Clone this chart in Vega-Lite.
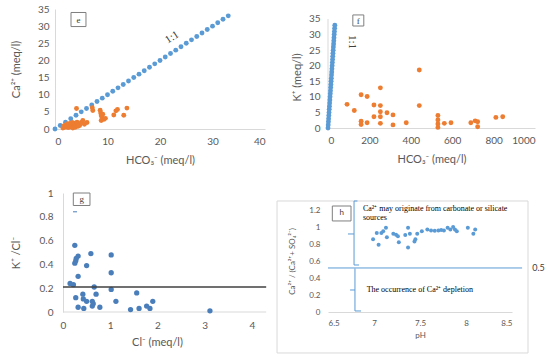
{
"$schema":"https://vega.github.io/schema/vega-lite/v6.json",
"autosize":{"type":"none"},
"padding":{"left":55,"top":9,"right":495,"bottom":348},
"background":"white",
"columns":2,
"spacing":{"column":61,"row":64},
"align":"none",
"bounds":"flush",
"config":{
 "view":{"stroke":null},
 "font":"Lato",
 "axis":{"ticks":false,"grid":false,"labelOverlap":false,"labelBound":false,"domainColor":"#d9d9d9","domainWidth":1,"labelColor":"#595959","titleColor":"#595959","titleFontWeight":"normal","labelFont":"Lato","titleFont":"Lato","labelFontSize":10,"titleFontSize":11}
},
"datasets":{
 "diag":[{"x":0,"y":0},{"x":1,"y":1},{"x":2,"y":2},{"x":3,"y":3},{"x":4,"y":4},{"x":5,"y":5},{"x":6,"y":6},{"x":7,"y":7},{"x":8,"y":8},{"x":9,"y":9},{"x":10,"y":10},{"x":11,"y":11},{"x":12,"y":12},{"x":13,"y":13},{"x":14,"y":14},{"x":15,"y":15},{"x":16,"y":16},{"x":17,"y":17},{"x":18,"y":18},{"x":19,"y":19},{"x":20,"y":20},{"x":21,"y":21},{"x":22,"y":22},{"x":23,"y":23},{"x":24,"y":24},{"x":25,"y":25},{"x":26,"y":26},{"x":27,"y":27},{"x":28,"y":28},{"x":29,"y":29},{"x":30,"y":30},{"x":31,"y":31},{"x":32,"y":32},{"x":33,"y":33}],
 "eo":[{"x":1.5,"y":0.3},{"x":1.7,"y":0.9},{"x":1.9,"y":0.5},{"x":2.0,"y":1.2},{"x":2.2,"y":0.7},{"x":2.3,"y":1.5},{"x":2.5,"y":0.4},{"x":2.6,"y":1.0},{"x":2.8,"y":1.6},{"x":2.9,"y":0.6},{"x":3.0,"y":1.2},{"x":3.2,"y":0.8},{"x":3.3,"y":1.9},{"x":3.4,"y":0.3},{"x":3.5,"y":1.4},{"x":3.7,"y":0.9},{"x":3.8,"y":1.7},{"x":3.9,"y":0.5},{"x":4.0,"y":1.2},{"x":4.1,"y":6.0},{"x":4.2,"y":2.0},{"x":4.4,"y":0.8},{"x":4.5,"y":1.5},{"x":4.7,"y":1.0},{"x":5.0,"y":1.9},{"x":5.3,"y":2.5},{"x":5.6,"y":1.4},{"x":6.1,"y":1.9},{"x":7.1,"y":6.2},{"x":7.2,"y":5.4},{"x":8.6,"y":5.5},{"x":8.7,"y":4.7},{"x":8.8,"y":3.9},{"x":8.8,"y":2.5},{"x":9.0,"y":3.3},{"x":9.1,"y":4.3},{"x":9.3,"y":2.8},{"x":9.6,"y":3.1},{"x":11.2,"y":4.1},{"x":11.6,"y":5.3},{"x":11.9,"y":5.7},{"x":13.1,"y":4.0},{"x":13.7,"y":6.1}],
 "fo":[{"x":92,"y":7.6},{"x":127,"y":5.6},{"x":160,"y":10.7},{"x":189,"y":10.1},{"x":160,"y":2.2},{"x":160,"y":1.1},{"x":189,"y":1.7},{"x":222,"y":7.4},{"x":222,"y":3.6},{"x":253,"y":12.9},{"x":253,"y":7.2},{"x":253,"y":5.2},{"x":253,"y":3.6},{"x":253,"y":1.5},{"x":285,"y":4.9},{"x":314,"y":4.2},{"x":314,"y":1.0},{"x":378,"y":1.7},{"x":441,"y":18.6},{"x":441,"y":7.2},{"x":531,"y":4.0},{"x":531,"y":2.6},{"x":531,"y":1.3},{"x":531,"y":0.2},{"x":562,"y":1.5},{"x":594,"y":1.7},{"x":690,"y":1.7},{"x":711,"y":2.3},{"x":723,"y":2.0},{"x":723,"y":0.4},{"x":811,"y":3.4},{"x":844,"y":3.6}],
 "gp":[{"x":0.15,"y":0.24},{"x":0.22,"y":0.23},{"x":0.25,"y":0.56},{"x":0.27,"y":0.43},{"x":0.25,"y":0.41},{"x":0.28,"y":0.45},{"x":0.32,"y":0.47},{"x":0.32,"y":0.30},{"x":0.59,"y":0.49},{"x":0.50,"y":0.39},{"x":1.02,"y":0.48},{"x":1.02,"y":0.33},{"x":1.02,"y":0.19},{"x":0.66,"y":0.21},{"x":0.27,"y":0.12},{"x":0.42,"y":0.15},{"x":0.43,"y":0.11},{"x":0.50,"y":0.09},{"x":0.70,"y":0.15},{"x":0.62,"y":0.09},{"x":0.64,"y":0.07},{"x":0.62,"y":0.05},{"x":0.78,"y":0.04},{"x":0.32,"y":0.04},{"x":0.44,"y":0.03},{"x":1.12,"y":0.09},{"x":1.56,"y":0.16},{"x":1.43,"y":0.02},{"x":1.61,"y":0.03},{"x":1.77,"y":0.05},{"x":1.84,"y":0.03},{"x":1.90,"y":0.09},{"x":3.11,"y":0.01}],
 "hp":[{"x":6.99,"y":0.855},{"x":7.03,"y":0.93},{"x":7.05,"y":0.79},{"x":7.08,"y":0.93},{"x":7.10,"y":0.95},{"x":7.13,"y":0.99},{"x":7.14,"y":0.88},{"x":7.21,"y":0.92},{"x":7.24,"y":0.91},{"x":7.26,"y":0.89},{"x":7.27,"y":0.82},{"x":7.34,"y":0.905},{"x":7.37,"y":0.76},{"x":7.37,"y":0.99},{"x":7.39,"y":0.92},{"x":7.44,"y":0.83},{"x":7.45,"y":0.855},{"x":7.47,"y":0.92},{"x":7.52,"y":0.95},{"x":7.58,"y":0.97},{"x":7.62,"y":0.96},{"x":7.66,"y":0.955},{"x":7.70,"y":0.96},{"x":7.73,"y":0.965},{"x":7.76,"y":0.96},{"x":7.80,"y":0.99},{"x":7.83,"y":0.97},{"x":7.86,"y":1.0},{"x":7.88,"y":0.97},{"x":7.90,"y":0.95},{"x":8.02,"y":0.99},{"x":8.08,"y":0.92},{"x":8.10,"y":0.97}],
 "hseg":[{"x1":6.5,"y1":0.518,"x2":8.61,"y2":0.518},{"x1":6.783,"y1":1.306,"x2":6.783,"y2":0.553},{"x1":6.783,"y1":1.306,"x2":6.82,"y2":1.306},{"x1":6.783,"y1":0.553,"x2":6.837,"y2":0.553},{"x1":6.717,"y1":0.918,"x2":6.783,"y2":0.918},{"x1":6.793,"y1":0.512,"x2":6.793,"y2":0.012},{"x1":6.793,"y1":0.012,"x2":6.859,"y2":0.012},{"x1":6.74,"y1":0.259,"x2":6.793,"y2":0.259}]
},
"concat":[
 {
  "width":210,"height":120,
  "layer":[
   {"data":{"name":"diag"},"mark":{"type":"circle","size":24,"color":"#5b9bd5","opacity":1},
    "encoding":{"x":{"field":"x","type":"quantitative","scale":{"domain":[0,40],"nice":false},"axis":{"values":[0,10,20,30,40],"tickCount":20,"format":"d","title":"HCO₃⁻ (meq/l)","labelPadding":7,"titlePadding":8}},
                "y":{"field":"y","type":"quantitative","scale":{"domain":[0,35],"nice":false},"axis":{"values":[0,5,10,15,20,25,30,35],"tickCount":20,"format":"d","title":"Ca²⁺ (meq/l)","labelPadding":6,"titlePadding":16}}}},
   {"data":{"name":"eo"},"mark":{"type":"circle","size":24,"color":"#ed7d31","opacity":1},
    "encoding":{"x":{"field":"x","type":"quantitative"},"y":{"field":"y","type":"quantitative"}}},
   {"data":{"values":[{"x":22.3,"y":26.7,"t":"1:1"}]},"mark":{"type":"text","angle":327,"font":"Liberation Serif","fontSize":11,"color":"#404040"},
    "encoding":{"x":{"field":"x","type":"quantitative"},"y":{"field":"y","type":"quantitative"},"text":{"field":"t"}}},
   {"data":{"values":[{"x1":3.05,"x2":5.9,"y1":29.88,"y2":33.98}]},"mark":{"type":"rect","fill":"white","stroke":"#7f7f7f","strokeWidth":1},
    "encoding":{"x":{"field":"x1","type":"quantitative"},"x2":{"field":"x2"},"y":{"field":"y1","type":"quantitative"},"y2":{"field":"y2"}}},
   {"data":{"values":[{"x":4.48,"y":31.9,"t":"e"}]},"mark":{"type":"text","font":"Liberation Serif","fontSize":9,"color":"#404040"},
    "encoding":{"x":{"field":"x","type":"quantitative"},"y":{"field":"y","type":"quantitative"},"text":{"field":"t"}}}
  ]
 },
 {
  "width":207,"height":119,
  "layer":[
   {"data":{"values":[{"x":0,"y1":0,"y2":35}]},"mark":{"type":"rule","color":"#d9d9d9","strokeWidth":1},
    "encoding":{"x":{"field":"x","type":"quantitative","scale":{"domain":[0,1000],"nice":false},"axis":{"values":[0,200,400,600,800,1000],"tickCount":20,"format":"d","title":"HCO₃⁻ (meq/l)","labelPadding":7,"titlePadding":8}},
                "y":{"field":"y1","type":"quantitative","scale":{"domain":[0,38.21],"nice":false},"axis":{"values":[0,5,10,15,20,25,30,35],"tickCount":20,"format":"d","title":"K⁺ (meq/l)","domain":false,"labelPadding":8,"titlePadding":6,"titleY":68}},"y2":{"field":"y2"}}},
   {"data":{"name":"diag"},"mark":{"type":"circle","size":24,"color":"#5b9bd5","opacity":1},
    "encoding":{"x":{"field":"x","type":"quantitative"},"y":{"field":"y","type":"quantitative"}}},
   {"data":{"name":"fo"},"mark":{"type":"circle","size":24,"color":"#ed7d31","opacity":1},
    "encoding":{"x":{"field":"x","type":"quantitative"},"y":{"field":"y","type":"quantitative"}}},
   {"data":{"values":[{"x":115,"y":27.6,"t":"1:1"}]},"mark":{"type":"text","angle":90,"font":"Liberation Serif","fontSize":11,"color":"#404040"},
    "encoding":{"x":{"field":"x","type":"quantitative"},"y":{"field":"y","type":"quantitative"},"text":{"field":"t"}}},
   {"data":{"values":[{"x1":120,"x2":173,"y1":32.75,"y2":36.3}]},"mark":{"type":"rect","fill":"white","stroke":"#7f7f7f","strokeWidth":1},
    "encoding":{"x":{"field":"x1","type":"quantitative"},"x2":{"field":"x2"},"y":{"field":"y1","type":"quantitative"},"y2":{"field":"y2"}}},
   {"data":{"values":[{"x":146.5,"y":34.5,"t":"f"}]},"mark":{"type":"text","font":"Liberation Serif","fontSize":9,"color":"#404040"},
    "encoding":{"x":{"field":"x","type":"quantitative"},"y":{"field":"y","type":"quantitative"},"text":{"field":"t"}}}
  ]
 },
 {
  "width":212,"height":119,
  "layer":[
   {"data":{"values":[{"x1":0,"x2":4.3,"y":0}]},"mark":{"type":"rule","color":"#d9d9d9","strokeWidth":1},
    "encoding":{"x":{"field":"x1","type":"quantitative","scale":{"domain":[-0.1693,4.3175],"nice":false},"axis":{"values":[0,1,2,3,4],"tickCount":20,"format":"d","title":"Cl⁻ (meq/l)","domain":false,"labelPadding":8,"titlePadding":6,"titleX":102}},"x2":{"field":"x2"},
                "y":{"field":"y","type":"quantitative","scale":{"domain":[0,1],"nice":false},"axis":{"values":[0,0.2,0.4,0.6,0.8,1],"tickCount":20,"format":".1~f","title":"K⁺ /Cl⁻","offset":-8,"labelPadding":10,"titlePadding":18}}}},
   {"data":{"name":"gp"},"mark":{"type":"circle","size":28,"color":"#4a7ebb","opacity":1},
    "encoding":{"x":{"field":"x","type":"quantitative"},"y":{"field":"y","type":"quantitative"}}},
   {"data":{"values":[{"x1":0,"x2":4.3,"y":0.211}]},"mark":{"type":"rule","color":"#404040","strokeWidth":1.5},
    "encoding":{"x":{"field":"x1","type":"quantitative"},"x2":{"field":"x2"},"y":{"field":"y","type":"quantitative"}}},
   {"data":{"values":[{"x":0.254,"y":0.842}]},"mark":{"type":"point","shape":"stroke","size":16,"color":"#4a7ebb","strokeWidth":1,"opacity":1},
    "encoding":{"x":{"field":"x","type":"quantitative"},"y":{"field":"y","type":"quantitative"}}},
   {"data":{"values":[{"x1":0.218,"x2":0.571,"y1":0.895,"y2":1.0}]},"mark":{"type":"rect","fill":"white","stroke":"#7f7f7f","strokeWidth":1},
    "encoding":{"x":{"field":"x1","type":"quantitative"},"x2":{"field":"x2"},"y":{"field":"y1","type":"quantitative"},"y2":{"field":"y2"}}},
   {"data":{"values":[{"x":0.395,"y":0.948,"t":"g"}]},"mark":{"type":"text","font":"Liberation Serif","fontSize":9,"color":"#404040"},
    "encoding":{"x":{"field":"x","type":"quantitative"},"y":{"field":"y","type":"quantitative"},"text":{"field":"t"}}}
  ]
 },
 {
  "width":184,"height":119,
  "layer":[
   {"data":{"values":[{"x1":5.946,"x2":8.674,"y1":-0.482,"y2":1.306}]},"mark":{"type":"rect","fill":"transparent","stroke":"#d9d9d9","strokeWidth":1},
    "encoding":{"x":{"field":"x1","type":"quantitative","scale":{"domain":[6.5,8.5],"nice":false},"axis":{"values":[6.5,7,7.5,8,8.5],"tickCount":20,"format":".1~f","title":"pH","labelFontSize":8,"titleFontSize":8,"labelPadding":7,"titlePadding":4}},"x2":{"field":"x2"},
                "y":{"field":"y1","type":"quantitative","scale":{"domain":[0,1.4],"nice":false},"axis":{"values":[0,0.2,0.4,0.6,0.8,1,1.2],"tickCount":20,"format":".1~f","title":"Ca²⁺ / (Ca²⁺+ SO₄²⁻)","domain":false,"labelFontSize":8,"titleFontSize":8,"labelPadding":8,"titlePadding":12,"titleY":68}},"y2":{"field":"y2"}}},
   {"data":{"name":"hseg"},"mark":{"type":"rule","color":"#5b9bd5","strokeWidth":1},
    "encoding":{"x":{"field":"x1","type":"quantitative"},"x2":{"field":"x2"},"y":{"field":"y1","type":"quantitative"},"y2":{"field":"y2"}}},
   {"data":{"name":"hp"},"mark":{"type":"circle","size":16,"color":"#5b9bd5","opacity":1},
    "encoding":{"x":{"field":"x","type":"quantitative"},"y":{"field":"y","type":"quantitative"}}},
   {"data":{"values":[{"x1":6.547,"x2":6.75,"y1":1.071,"y2":1.247}]},"mark":{"type":"rect","fill":"white","stroke":"#7f7f7f","strokeWidth":1},
    "encoding":{"x":{"field":"x1","type":"quantitative"},"x2":{"field":"x2"},"y":{"field":"y1","type":"quantitative"},"y2":{"field":"y2"}}},
   {"data":{"values":[{"x":6.649,"y":1.159,"t":"h"}]},"mark":{"type":"text","font":"Lato","fontSize":8,"color":"#404040"},
    "encoding":{"x":{"field":"x","type":"quantitative"},"y":{"field":"y","type":"quantitative"},"text":{"field":"t"}}},
   {"data":{"values":[{"x":6.88,"y":1.212,"t":"Ca²⁺ may originate from carbonate or silicate"},{"x":6.88,"y":1.106,"t":"sources"},{"x":6.92,"y":0.259,"t":"The occurrence of Ca²⁺ depletion"}]},"mark":{"type":"text","font":"Liberation Serif","fontSize":8,"color":"#000000","align":"left"},
    "encoding":{"x":{"field":"x","type":"quantitative"},"y":{"field":"y","type":"quantitative"},"text":{"field":"t"}}},
   {"data":{"values":[{"x":8.72,"y":0.518,"t":"0.5"}]},"mark":{"type":"text","font":"Lato","fontSize":9,"color":"#404040","align":"left"},
    "encoding":{"x":{"field":"x","type":"quantitative"},"y":{"field":"y","type":"quantitative"},"text":{"field":"t"}}}
  ]
 }
]
}
